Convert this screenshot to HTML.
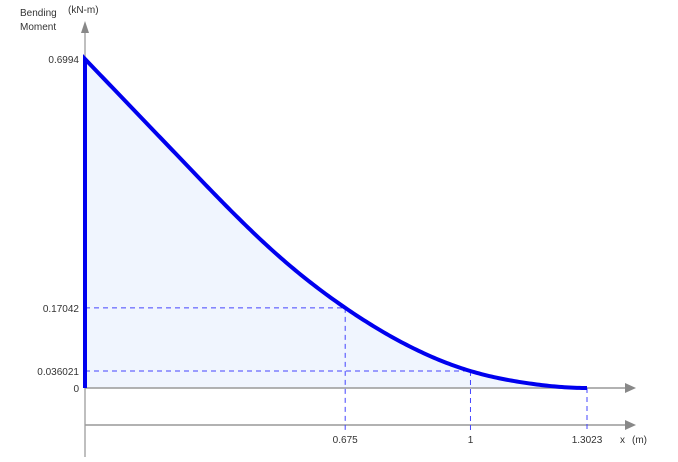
<!DOCTYPE html>
<html><head><meta charset="utf-8"><style>
body{margin:0;background:#fff;}
svg text{font-family:"Liberation Sans",Arial,sans-serif;font-size:10px;fill:#333;}
</style></head><body>
<svg width="678" height="457" xmlns="http://www.w3.org/2000/svg">
<g id="g"></g>
</svg>
<script>
const xs=[0,0.246,0.506,0.675,1,1.15,1.3023];
const ms=[0.6994,0.489,0.278,0.17042,0.036021,0.010,0];
const xTicks=[0.675,1,1.3023];
const xTickLabels=["0.675","1","1.3023"];
const yTicks=[0.6994,0.17042,0.036021,0];
const yTickLabels=["0.6994","0.17042","0.036021","0"];
const markX=[0.675,1];
const markY=[0.17042,0.036021];

const X0=85,Y0=388,SX=(587-85)/1.3023,SY=(388-59)/0.6994;
const fx=v=>X0+v*SX, fy=v=>Y0-v*SY;
const g=document.getElementById('g');
const NS='http://www.w3.org/2000/svg';
function mk(t,a){const e=document.createElementNS(NS,t);for(const k in a)e.setAttribute(k,a[k]);g.appendChild(e);return e;}

// cubic spline: natural at left, zero slope at right
const n=xs.length,h=[];
for(let i=0;i<n-1;i++)h.push(xs[i+1]-xs[i]);
const A=[],B=[],C=[],D=[];
for(let i=0;i<n;i++){A.push(0);B.push(0);C.push(0);D.push(0);}
B[0]=1;D[0]=0;
for(let i=1;i<n-1;i++){A[i]=h[i-1];B[i]=2*(h[i-1]+h[i]);C[i]=h[i];
 D[i]=6*((ms[i+1]-ms[i])/h[i]-(ms[i]-ms[i-1])/h[i-1]);}
A[n-1]=h[n-2];B[n-1]=2*h[n-2];D[n-1]=6*(0-(ms[n-1]-ms[n-2])/h[n-2]);
for(let i=1;i<n;i++){const w=A[i]/B[i-1];B[i]-=w*C[i-1];D[i]-=w*D[i-1];}
const M2=new Array(n);M2[n-1]=D[n-1]/B[n-1];
for(let i=n-2;i>=0;i--)M2[i]=(D[i]-C[i]*M2[i+1])/B[i];
function S(x){let i=0;while(i<n-2&&x>xs[i+1])i++;
 const a=xs[i+1]-x,b=x-xs[i],hh=h[i];
 return M2[i]*a*a*a/(6*hh)+M2[i+1]*b*b*b/(6*hh)+(ms[i]/hh-M2[i]*hh/6)*a+(ms[i+1]/hh-M2[i+1]*hh/6)*b;}
const pts=[];
for(let k=0;k<=200;k++){const x=xs[n-1]*k/200;pts.push([fx(x),fy(S(x))]);}
const path=pts.map((p,i)=>(i?'L':'M')+p[0].toFixed(2)+','+p[1].toFixed(2)).join(' ');

let e=mk('path',{d:path+` L${fx(xs[n-1])},${Y0} L${X0},${Y0} Z`,fill:'#f0f5fe',stroke:'none'});



e=mk('line',{x1:X0,y1:28,x2:X0,y2:457,stroke:'#aaa','stroke-width':1.5});


e=mk('polygon',{points:`${X0-4},33 ${X0+4},33 ${X0},21`,fill:'#888'});


[Y0,425].forEach((yy,k)=>{
 e=mk('line',{x1:X0,y1:yy,x2:625,y2:yy,stroke:'#999','stroke-width':1.5});
 
 
 e=mk('polygon',{points:`625,${yy-5} 625,${yy+5} 636,${yy}`,fill:'#888'});
 
 
});

markX.forEach((x,i)=>{
 e=mk('line',{x1:X0,y1:fy(markY[i]),x2:fx(x),y2:fy(markY[i]),stroke:'#4444ff','stroke-dasharray':'5,4'});
 
 
});
xTicks.forEach((x,i)=>{
 const k=markX.indexOf(x);const top=k>=0?fy(markY[k]):Y0;
 e=mk('line',{x1:fx(x),y1:top,x2:fx(x),y2:430,stroke:'#4444ff','stroke-dasharray':'5,4'});
 
 
 e=mk('text',{x:fx(x),y:443,'text-anchor':'middle'});e.textContent=xTickLabels[i];
 
 
});
yTicks.forEach((v,i)=>{
 e=mk('text',{x:79,y:fy(v)+4,'text-anchor':'end'});e.textContent=yTickLabels[i];
 
 
});

e=mk('path',{d:`M${X0},${Y0} L`+path.slice(1),fill:'none',stroke:'#0000ee','stroke-width':4});



[['Bending',20,16,'y-axis-title'],['Moment',20,30,'y-axis-title'],['(kN-m)',68,13,'y-unit'],['x',620,443,'x-axis-title'],['(m)',632,443,'x-unit']].forEach(t=>{
 e=mk('text',{x:t[1],y:t[2]});e.textContent=t[0];
 
 
});
</script>
</body></html>
